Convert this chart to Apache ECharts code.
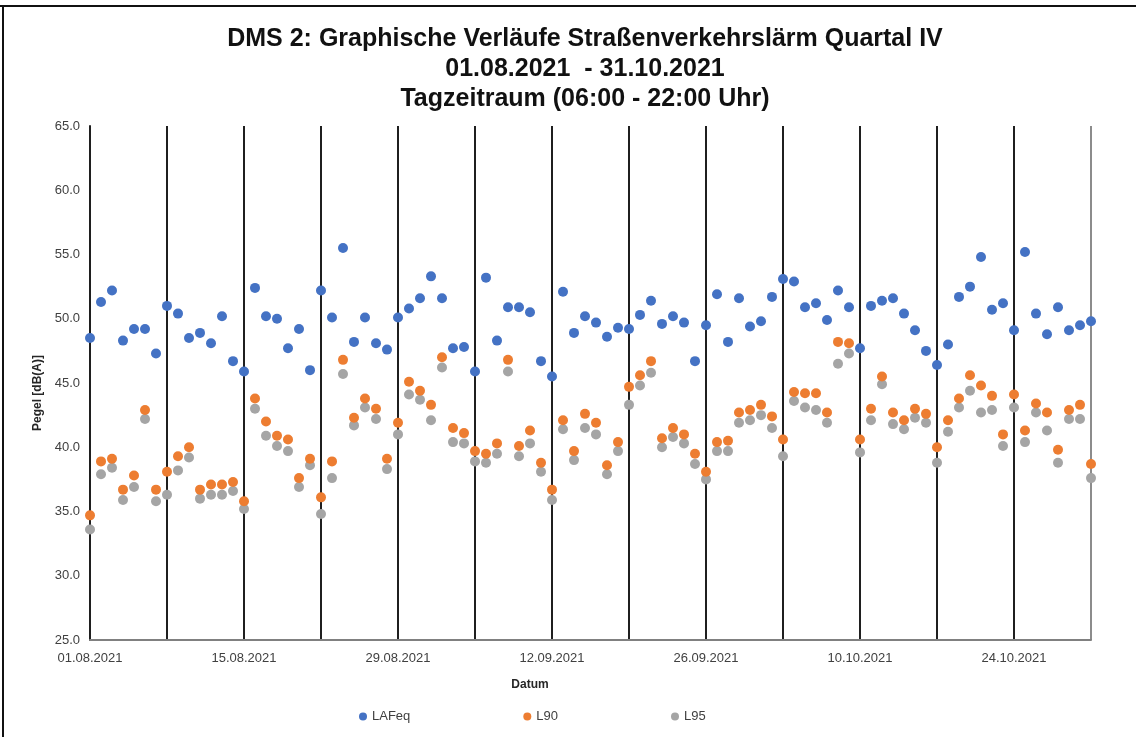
<!DOCTYPE html>
<html>
<head>
<meta charset="utf-8">
<title>DMS 2 Straßenverkehrslärm</title>
<script src="https://cdn.jsdelivr.net/npm/echarts@6/dist/echarts.min.js"></script>
<style>
  html, body { margin: 0; padding: 0; background: #fff; }
  #chart { width: 1136px; height: 737px; }
</style>
</head>
<body>
<div id="chart"></div>
<script>
// Datum (Tage 01.08.2021 - 31.10.2021)
const dates = [
  '01.08.2021', '02.08.2021', '03.08.2021', '04.08.2021', '05.08.2021', '06.08.2021', '07.08.2021',
  '08.08.2021', '09.08.2021', '10.08.2021', '11.08.2021', '12.08.2021', '13.08.2021', '14.08.2021',
  '15.08.2021', '16.08.2021', '17.08.2021', '18.08.2021', '19.08.2021', '20.08.2021', '21.08.2021',
  '22.08.2021', '23.08.2021', '24.08.2021', '25.08.2021', '26.08.2021', '27.08.2021', '28.08.2021',
  '29.08.2021', '30.08.2021', '31.08.2021', '01.09.2021', '02.09.2021', '03.09.2021', '04.09.2021',
  '05.09.2021', '06.09.2021', '07.09.2021', '08.09.2021', '09.09.2021', '10.09.2021', '11.09.2021',
  '12.09.2021', '13.09.2021', '14.09.2021', '15.09.2021', '16.09.2021', '17.09.2021', '18.09.2021',
  '19.09.2021', '20.09.2021', '21.09.2021', '22.09.2021', '23.09.2021', '24.09.2021', '25.09.2021',
  '26.09.2021', '27.09.2021', '28.09.2021', '29.09.2021', '30.09.2021', '01.10.2021', '02.10.2021',
  '03.10.2021', '04.10.2021', '05.10.2021', '06.10.2021', '07.10.2021', '08.10.2021', '09.10.2021',
  '10.10.2021', '11.10.2021', '12.10.2021', '13.10.2021', '14.10.2021', '15.10.2021', '16.10.2021',
  '17.10.2021', '18.10.2021', '19.10.2021', '20.10.2021', '21.10.2021', '22.10.2021', '23.10.2021',
  '24.10.2021', '25.10.2021', '26.10.2021', '27.10.2021', '28.10.2021', '29.10.2021', '30.10.2021',
  '31.10.2021'
];

// Pegel [dB(A)]
const lafeq = [
  48.5, 51.3, 52.2, 48.3, 49.2, 49.2, 47.3, 51.0, 50.4, 48.5, 48.9, 48.1, 50.2, 46.7, 45.9,
  52.4, 50.2, 50.0, 47.7, 49.2, 46.0, 52.2, 50.1, 55.5, 48.2, 50.1, 48.1, 47.6, 50.1,
  50.8, 51.6, 53.3, 51.6, 47.7, 47.8, 45.9, 53.2, 48.3, 50.9, 50.9, 50.5, 46.7, 45.5,
  52.1, 48.9, 50.2, 49.7, 48.6, 49.3, 49.2, 50.3, 51.4, 49.6, 50.2, 49.7, 46.7, 49.5,
  51.9, 48.2, 51.6, 49.4, 49.8, 51.7, 53.1, 52.9, 50.9, 51.2, 49.9, 52.2, 50.9, 47.7,
  51.0, 51.4, 51.6, 50.4, 49.1, 47.5, 46.4, 48.0, 51.7, 52.5, 54.8, 50.7, 51.2, 49.1,
  55.2, 50.4, 48.8, 50.9, 49.1, 49.5, 49.8
];
const l90 = [
  34.7, 38.9, 39.1, 36.7, 37.8, 42.9, 36.7, 38.1, 39.3, 40.0, 36.7, 37.1, 37.1, 37.3, 35.8,
  43.8, 42.0, 40.9, 40.6, 37.6, 39.1, 36.1, 38.9, 46.8, 42.3, 43.8, 43.0, 39.1, 41.9,
  45.1, 44.4, 43.3, 47.0, 41.5, 41.1, 39.7, 39.5, 40.3, 46.8, 40.1, 41.3, 38.8, 36.7,
  42.1, 39.7, 42.6, 41.9, 38.6, 40.4, 44.7, 45.6, 46.7, 40.7, 41.5, 41.0, 39.5, 38.1,
  40.4, 40.5, 42.7, 42.9, 43.3, 42.4, 40.6, 44.3, 44.2, 44.2, 42.7, 48.2, 48.1, 40.6,
  43.0, 45.5, 42.7, 42.1, 43.0, 42.6, 40.0, 42.1, 43.8, 45.6, 44.8, 44.0, 41.0, 44.1,
  41.3, 43.4, 42.7, 39.8, 42.9, 43.3, 38.7
];
const l95 = [
  33.6, 37.9, 38.4, 35.9, 36.9, 42.2, 35.8, 36.3, 38.2, 39.2, 36.0, 36.3, 36.3, 36.6, 35.2,
  43.0, 40.9, 40.1, 39.7, 36.9, 38.6, 34.8, 37.6, 45.7, 41.7, 43.1, 42.2, 38.3, 41.0,
  44.1, 43.7, 42.1, 46.2, 40.4, 40.3, 38.9, 38.8, 39.5, 45.9, 39.3, 40.3, 38.1, 35.9,
  41.4, 39.0, 41.5, 41.0, 37.9, 39.7, 43.3, 44.8, 45.8, 40.0, 40.8, 40.3, 38.7, 37.5,
  39.7, 39.7, 41.9, 42.1, 42.5, 41.5, 39.3, 43.6, 43.1, 42.9, 41.9, 46.5, 47.3, 39.6,
  42.1, 44.9, 41.8, 41.4, 42.3, 41.9, 38.8, 41.2, 43.1, 44.4, 42.7, 42.9, 40.1, 43.1,
  40.4, 42.7, 41.3, 38.8, 42.2, 42.2, 37.6
];

const myChart = echarts.init(document.getElementById('chart'));
const font = 'Liberation Sans, Arial, sans-serif';

// Wochenlinien: dunkel, die letzte (rechter Rand) grau
const weekColors = [];
for (let i = 0; i < 14; i++) {
  weekColors.push(i === 13 ? '#8c8c8c' : '#1f1f1f');
}

const option = {
  animation: false,
  backgroundColor: '#fff',
  textStyle: { fontFamily: font },
  color: ['#4472C4', '#ED7D31', '#A5A5A5'],
  title: {
    text: 'DMS 2: Graphische Verläufe Straßenverkehrslärm Quartal IV\n01.08.2021  - 31.10.2021\nTagzeitraum (06:00 - 22:00 Uhr)',
    left: 580,
    top: 19,
    textAlign: 'center',
    textStyle: {
      fontFamily: font,
      fontSize: 25,
      fontWeight: 'bold',
      color: '#111',
      lineHeight: 30
    }
  },
  legend: {
    data: ['LAFeq', 'L90', 'L95'],
    left: 354,
    top: 705,
    icon: 'circle',
    itemWidth: 8,
    itemHeight: 8,
    itemGap: 113,
    textStyle: { fontFamily: font, fontSize: 13, color: '#404040' }
  },
  grid: {
    left: 90,
    right: 45,
    top: 126,
    bottom: 97
  },
  xAxis: {
    type: 'category',
    data: dates,
    boundaryGap: false,
    axisLine: { lineStyle: { color: '#808080', width: 2 } },
    axisTick: { show: false },
    axisLabel: {
      interval: 13,
      margin: 12,
      fontSize: 13,
      color: '#404040'
    },
    splitLine: {
      show: true,
      interval: 6,
      lineStyle: { color: weekColors, width: 2 }
    }
  },
  yAxis: {
    type: 'value',
    min: 25,
    max: 65,
    interval: 5,
    name: 'Pegel [dB(A)]',
    nameLocation: 'middle',
    nameGap: 46,
    nameTextStyle: {
      fontFamily: font,
      fontSize: 12,
      fontWeight: 'bold',
      color: '#262626',
      padding: [0, 20, 0, 0]
    },
    axisLine: { show: true, lineStyle: { color: '#1f1f1f', width: 2 } },
    axisTick: { show: false },
    axisLabel: {
      margin: 10,
      fontSize: 13,
      color: '#404040',
      formatter: v => v.toFixed(1)
    },
    splitLine: { show: false }
  },
  graphic: [
    {
      type: 'text',
      x: 530,
      y: 685,
      style: {
        text: 'Datum',
        fontFamily: font,
        fontSize: 12,
        fontWeight: 'bold',
        fill: '#262626',
        align: 'center',
        verticalAlign: 'middle'
      }
    },
    { type: 'line', shape: { x1: 0, y1: 6, x2: 1136, y2: 6 }, style: { stroke: '#111', lineWidth: 2 } },
    { type: 'line', shape: { x1: 3, y1: 6, x2: 3, y2: 737 }, style: { stroke: '#111', lineWidth: 2 } }
  ],
  series: [
    { name: 'LAFeq', type: 'scatter', data: lafeq, symbolSize: 10, itemStyle: { opacity: 1 }, z: 2 },
    { name: 'L90', type: 'scatter', data: l90, symbolSize: 10, itemStyle: { opacity: 1 }, z: 4 },
    { name: 'L95', type: 'scatter', data: l95, symbolSize: 10, itemStyle: { opacity: 1 }, z: 3 }
  ]
};

myChart.setOption(option);
window.addEventListener('resize', myChart.resize);
</script>
</body>
</html>
